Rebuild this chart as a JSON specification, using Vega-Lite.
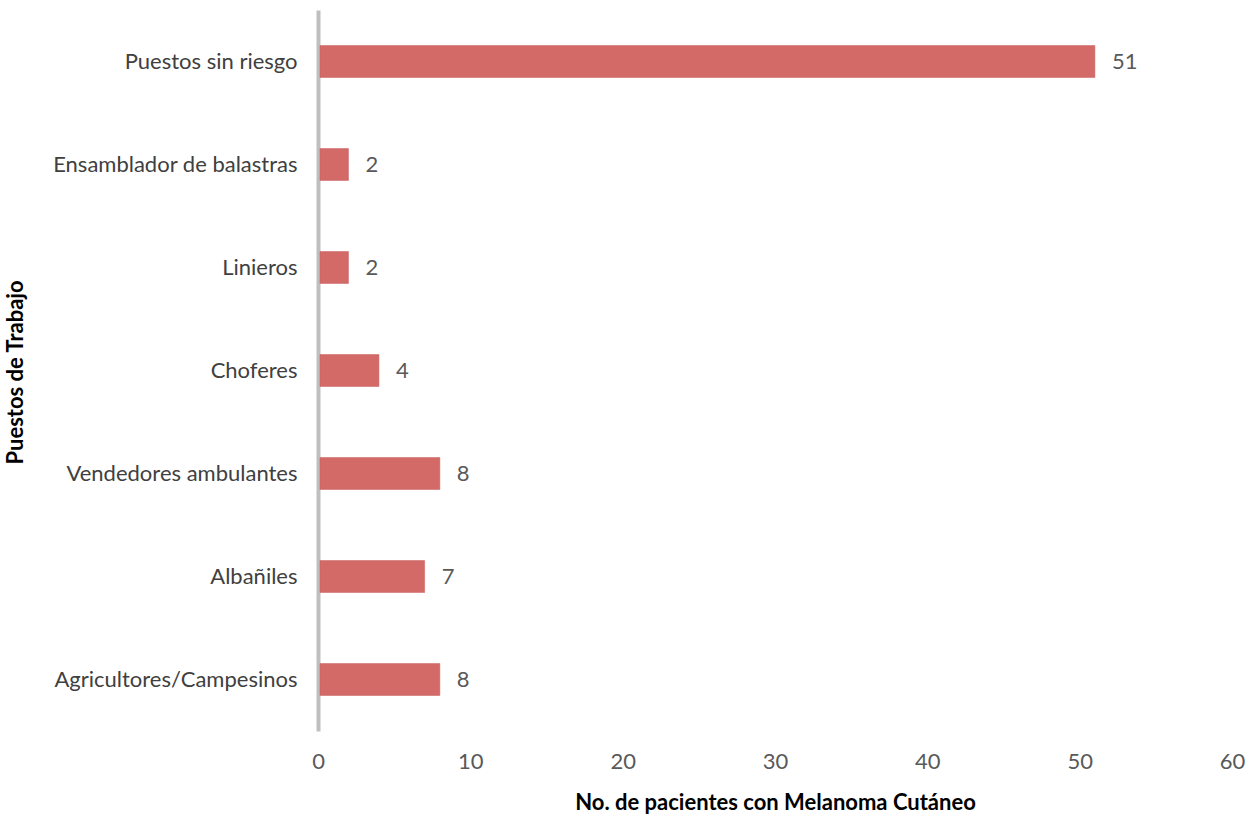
{
  "$schema": "https://vega.github.io/schema/vega-lite/v6.json",
  "autosize": "none",
  "width": 914,
  "height": 721,
  "padding": {"left": 318, "top": 10, "right": 26, "bottom": 84},
  "background": "white",
  "config": {"view": {"stroke": null}, "font": "Lato"},
  "data": {"values": [
    {"puesto": "Puestos sin riesgo", "n": 51},
    {"puesto": "Ensamblador de balastras", "n": 2},
    {"puesto": "Linieros", "n": 2},
    {"puesto": "Choferes", "n": 4},
    {"puesto": "Vendedores ambulantes", "n": 8},
    {"puesto": "Albañiles", "n": 7},
    {"puesto": "Agricultores/Campesinos", "n": 8}
  ]},
  "encoding": {
    "y": {"field": "puesto", "type": "nominal", "sort": null,
      "scale": {"paddingInner": 0.69, "paddingOuter": 0.345},
      "axis": {"title": "Puestos de Trabajo", "titleFont": "Lato", "titleFontSize": 22, "titleFontWeight": "bold", "titleColor": "black",
        "titleAngle": -90, "titleX": -303, "titleY": 362, "titleAlign": "center", "titleBaseline": "middle",
        "labelFont": "Lato", "labelFontSize": 22, "labelColor": "#404040", "labelPadding": 21, "ticks": false,
        "domainColor": "#bfbfbf", "domainWidth": 4, "labelLimit": 400}},
    "x": {"field": "n", "type": "quantitative", "scale": {"domain": [0, 60]},
      "axis": {"values": [0, 10, 20, 30, 40, 50, 60], "grid": false, "domain": false, "ticks": false, "labelFlush": false,
        "labelFont": "Lato", "labelFontSize": 22, "labelColor": "#595959", "labelPadding": 20,
        "title": "No. de pacientes con Melanoma Cutáneo", "titleFont": "Lato", "titleFontSize": 22, "titleFontWeight": "bold", "titleColor": "black",
        "titleY": 71, "titleBaseline": "middle"}}
  },
  "layer": [
    {"mark": {"type": "bar", "fill": "#d46a68", "stroke": "#c9605d", "strokeWidth": 0.5}, "encoding": {"x2": {"datum": 0.13}}},
    {"mark": {"type": "text", "align": "left", "baseline": "middle", "dx": 17, "fontSize": 22, "color": "#595959", "font": "Lato"},
      "encoding": {"text": {"field": "n", "type": "quantitative"}}}
  ]
}
